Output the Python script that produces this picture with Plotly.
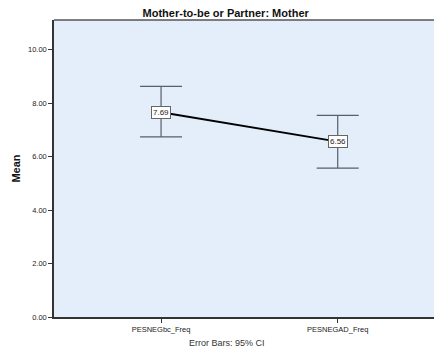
import plotly.graph_objects as go

categories = ["PESNEGbc_Freq", "PESNEGAD_Freq"]
means = [7.66, 6.56]
ci_upper = [8.63, 7.54]
ci_lower = [6.74, 5.57]
mean_labels = ["7.69", "6.56"]
y_ticks = [0, 2, 4, 6, 8, 10]

xpos = list(range(len(categories)))
err_plus = [u - m for u, m in zip(ci_upper, means)]
err_minus = [m - l for m, l in zip(means, ci_lower)]

fig = go.Figure()
fig.add_trace(go.Scatter(
    x=xpos, y=means, mode="lines",
    line=dict(color="black", width=2),
    error_y=dict(type="data", symmetric=False, array=err_plus, arrayminus=err_minus,
                 color="#56606c", thickness=1.2, width=21),
    hoverinfo="skip", showlegend=False,
))
for x, y, t in zip(xpos, means, mean_labels):
    fig.add_annotation(x=x, y=y, text=t, showarrow=False,
                       font=dict(family="Liberation Sans, Arial", size=8, color="#222"),
                       bgcolor="white", bordercolor="#666", borderwidth=1, borderpad=1)

font = dict(family="Liberation Sans, Arial", size=9, color="#222")
fig.update_layout(
    width=434, height=354,
    margin=dict(l=54, r=0, t=20, b=37),
    paper_bgcolor="white", plot_bgcolor="#E3EEFA",
    title=dict(text="<b>Mother-to-be or Partner: Mother</b>", x=0.52, xanchor="center",
               y=0.963, yanchor="middle", font=dict(family="Liberation Sans, Arial", size=11, color="#111")),
    font=font,
    xaxis=dict(range=[-0.606, 1.545], tickvals=xpos, ticktext=categories,
               showgrid=False, zeroline=False, showline=True, linecolor="#333", linewidth=1.5,
               mirror=False, ticks="outside", ticklen=4, tickcolor="#333",
               tickfont=dict(family="Liberation Sans, Arial", size=7.5, color="#222")),
    yaxis=dict(range=[0, 11.11], tickvals=y_ticks, ticktext=[f"{v:.2f}" for v in y_ticks],
               showgrid=False, zeroline=False, showline=True, linecolor="#333", linewidth=1.5,
               ticks="outside", ticklen=4, tickcolor="#333",
               title=dict(text="<b>Mean</b>", standoff=5, font=dict(family="Liberation Sans, Arial", size=11, color="#111")),
               tickfont=dict(family="Liberation Sans, Arial", size=7.5, color="#222")),
)
# top border of the plot area
fig.add_shape(type="line", xref="paper", yref="paper", x0=0, x1=1, y0=1, y1=1,
              line=dict(color="#555", width=1.5))
fig.add_annotation(xref="paper", yref="paper", x=0.455, y=-0.088, text="Error Bars: 95% CI",
                   showarrow=False, yanchor="middle",
                   font=dict(family="Liberation Sans, Arial", size=9, color="#333"))

fig.write_html("out.html", config={"displayModeBar": False},
               post_script="document.body.style.margin='0';document.body.style.overflow='hidden';")
